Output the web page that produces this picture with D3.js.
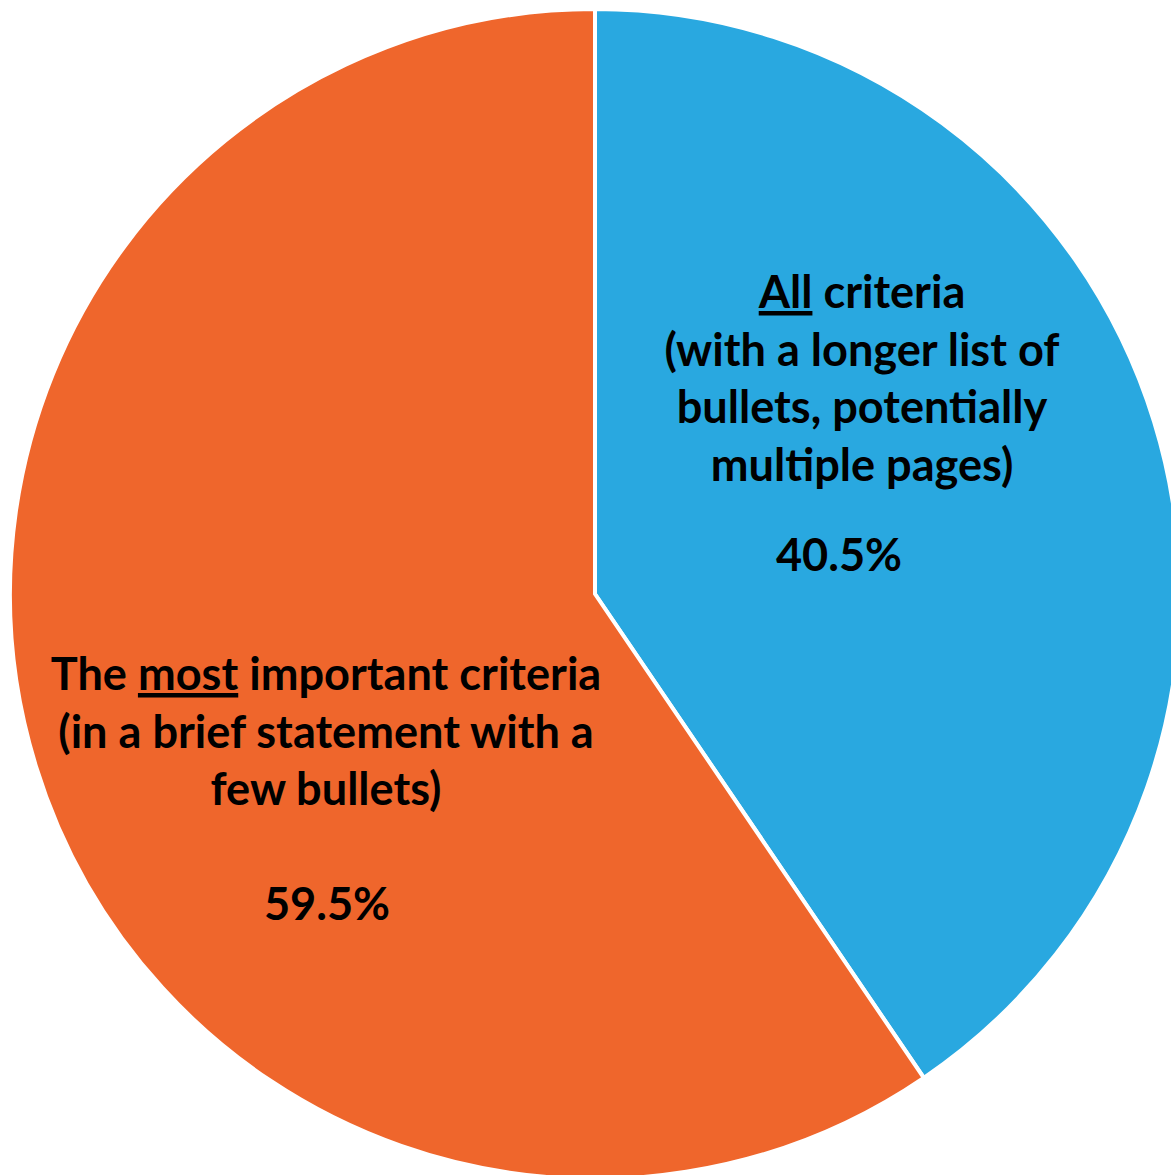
<!DOCTYPE html>
<html>
<head>
<meta charset="utf-8">
<script src="https://cdn.jsdelivr.net/npm/d3@7"></script>
<style>
  html, body { margin: 0; padding: 0; background: #ffffff; }
  svg { display: block; }
</style>
</head>
<body>
<svg id="chart" width="1171" height="1175"></svg>
<script>
// ---- data ----
const categories = ["All criteria", "The most important criteria"];
const values = [40.5, 59.5];
const colors = ["#29A8E0", "#EF662C"];
// label lines; segments marked with underline flag
const labelLines = [
  [
    [["All", true], [" criteria", false]],
    [["(with a longer list of", false]],
    [["bullets, potentially", false]],
    [["multiple pages)", false]]
  ],
  [
    [["The ", false], ["most", true], [" important criteria", false]],
    [["(in a brief statement with a", false]],
    [["few bullets)", false]]
  ]
];

// ---- layout ----
const cx = 595, cy = 594, R = 585;
const svg = d3.select("#chart");
const g = svg.append("g").attr("transform", `translate(${cx},${cy})`);

const pie = d3.pie().sort(null).value(d => d);
const arcs = pie(values);
const arc = d3.arc().innerRadius(0).outerRadius(R);

g.selectAll("path.slice")
  .data(arcs)
  .join("path")
  .attr("class", "slice")
  .attr("d", arc)
  .attr("fill", (d, i) => colors[i])
  .attr("stroke", "#ffffff")
  .attr("stroke-width", 4)
  .attr("stroke-linejoin", "miter");

// ---- labels ----
const fontFamily = "Lato, 'Open Sans', sans-serif";
// measure to scale font so the widest blue line matches ~395px
const probe = svg.append("text").attr("font-family", fontFamily).attr("font-weight", 700)
  .attr("font-size", 100).text("(with a longer list of");
const w100 = probe.node().getComputedTextLength();
probe.remove();
const fs = Math.min(48, 100 * 395 / w100);

const labelPos = [
  { x: 862, y: 308, pctX: 839, pctY: 571 },
  { x: 326, y: 690, pctX: 327, pctY: 920 }
];
const lineH = 57.5;

labelLines.forEach((lines, i) => {
  const t = svg.append("text")
    .attr("text-anchor", "middle")
    .attr("font-family", fontFamily)
    .attr("font-weight", 700)
    .attr("font-size", fs)
    .attr("fill", "#000");
  lines.forEach((segs, li) => {
    segs.forEach((seg, si) => {
      const ts = t.append("tspan").text(seg[0]);
      if (si === 0) ts.attr("x", labelPos[i].x).attr("y", labelPos[i].y + li * lineH);
      if (seg[1]) ts.attr("text-decoration", "underline");
    });
  });
  svg.append("text")
    .attr("text-anchor", "middle")
    .attr("font-family", fontFamily)
    .attr("font-weight", 700)
    .attr("font-size", fs)
    .attr("x", labelPos[i].pctX)
    .attr("y", labelPos[i].pctY)
    .text(d3.format(".1f")(values[i]) + "%");
});
</script>
</body>
</html>
